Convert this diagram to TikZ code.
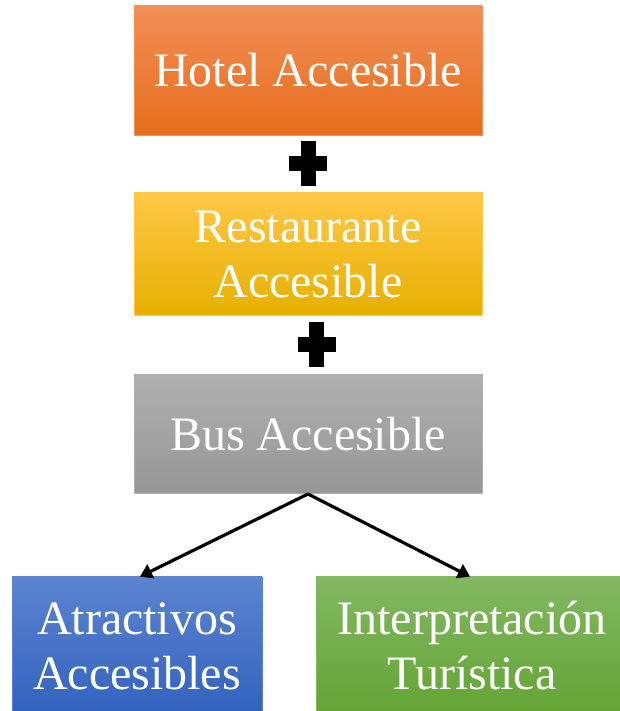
\documentclass[tikz,border=0pt]{standalone}
\usepackage{fontspec}
\setmainfont{Liberation Serif}
\usepackage{tikz}
\usetikzlibrary{arrows.meta,positioning}
\definecolor{hoteltop}{RGB}{242,142,86}
\definecolor{hotelmid}{RGB}{240,124,44}
\definecolor{hotelbot}{RGB}{230,110,28}
\definecolor{resttop}{RGB}{255,200,70}
\definecolor{restmid}{RGB}{255,192,0}
\definecolor{restbot}{RGB}{230,176,0}
\definecolor{bustop}{RGB}{176,176,176}
\definecolor{busmid}{RGB}{164,164,164}
\definecolor{busbot}{RGB}{150,150,150}
\definecolor{atrtop}{RGB}{92,132,208}
\definecolor{atrmid}{RGB}{66,112,200}
\definecolor{atrbot}{RGB}{50,98,190}
\definecolor{inttop}{RGB}{130,184,98}
\definecolor{intmid}{RGB}{112,172,70}
\definecolor{intbot}{RGB}{100,164,52}

\begin{document}
\begin{tikzpicture}[
			x=1pt, y=1pt,
			box/.style={rectangle, line width=0.8pt, align=center, text=white,
				font=\fontsize{48}{55}\selectfont, inner sep=0pt},
			hotelbox/.style={box, draw=hoteltop, top color=hoteltop, middle color=hotelmid, bottom color=hotelbot},
			restbox/.style={box, draw=resttop, top color=resttop, middle color=restmid, bottom color=restbot},
			busbox/.style={box, draw=bustop, top color=bustop, middle color=busmid, bottom color=busbot},
			atrbox/.style={box, draw=atrtop, top color=atrtop, middle color=atrmid, bottom color=atrbot},
			intbox/.style={box, draw=inttop, top color=inttop, middle color=intmid, bottom color=intbot},
			plussign/.pic={\fill[black] (-19,-7.5) rectangle (19,7.5); \fill[black] (-7.5,-22.5) rectangle (7.5,22.5);},
			link/.style={line width=3.2pt, -{Triangle[length=12pt,width=15pt]}}
			]
			\useasboundingbox (0,0) rectangle (619,711);
			\node[hotelbox, minimum width=348pt, minimum height=129pt] (hotel) at (308,640.5) {Hotel Accesible};
			\node[restbox, minimum width=348pt, minimum height=123pt, below=57pt of hotel] (rest) {Restaurante\\Accesible};
			\node[busbox, minimum width=348pt, minimum height=119pt, below=58pt of rest] (bus) {Bus Accesible};
			\node[atrbox, minimum width=250pt, minimum height=138pt] (atr) at (137,65) {Atractivos\\Accesibles};
			\node[intbox, minimum width=312pt, minimum height=138pt] (int) at (472,65) {Interpretación\\Turística};
			
			% signos de suma entre cajas
			\pic at (308,547.5) {plussign};
			\pic at (316.5,366.5) {plussign};
			
			\draw[link] (bus.south) -- ([xshift=3pt]atr.north);
			\draw[link] (bus.south) -- ([xshift=-2pt]int.north);
		\end{tikzpicture}
\end{document}
